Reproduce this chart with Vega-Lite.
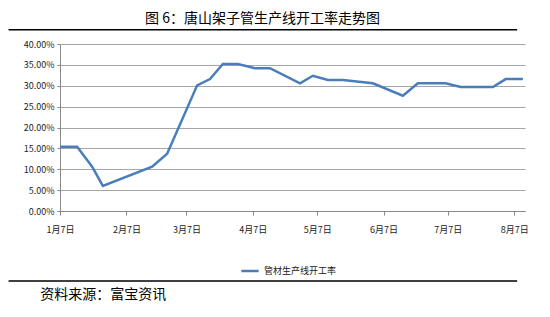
{
  "$schema": "https://vega.github.io/schema/vega-lite/v6.json",
  "background": "white",
  "autosize": {"type": "none"},
  "padding": {"left": 60, "top": 44, "right": 25, "bottom": 106},
  "width": 465,
  "height": 167,
  "config": {"font": "Noto Sans CJK SC", "view": {"stroke": null}},
  "title": {"text": "图 6：唐山架子管生产线开工率走势图", "fontSize": 14, "fontWeight": "normal", "anchor": "middle", "frame": "group", "dx": -30, "offset": 3, "color": "black"},
  "layer": [
    {
      "data": {
        "values": [
          {"date": "2013/01/07", "rate": 0.154},
          {"date": "2013/01/15", "rate": 0.154},
          {"date": "2013/01/22", "rate": 0.106},
          {"date": "2013/01/27", "rate": 0.060},
          {"date": "2013/02/19", "rate": 0.106},
          {"date": "2013/02/26", "rate": 0.137},
          {"date": "2013/03/12", "rate": 0.301},
          {"date": "2013/03/18", "rate": 0.316},
          {"date": "2013/03/24", "rate": 0.352},
          {"date": "2013/03/31", "rate": 0.352},
          {"date": "2013/04/08", "rate": 0.342},
          {"date": "2013/04/15", "rate": 0.342},
          {"date": "2013/04/29", "rate": 0.306},
          {"date": "2013/05/05", "rate": 0.324},
          {"date": "2013/05/12", "rate": 0.314},
          {"date": "2013/05/19", "rate": 0.314},
          {"date": "2013/06/02", "rate": 0.306},
          {"date": "2013/06/16", "rate": 0.276},
          {"date": "2013/06/23", "rate": 0.306},
          {"date": "2013/07/06", "rate": 0.306},
          {"date": "2013/07/13", "rate": 0.297},
          {"date": "2013/07/28", "rate": 0.297},
          {"date": "2013/08/03", "rate": 0.316},
          {"date": "2013/08/11", "rate": 0.316}
        ]
      },
      "mark": {"type": "line", "strokeWidth": 2.5},
      "encoding": {
        "x": {
          "field": "date",
          "type": "temporal",
          "scale": {"domain": [{"year": 2013, "month": 1, "date": 7}, {"year": 2013, "month": 8, "date": 12}]},
          "axis": {
            "title": null,
            "values": [
              {"year": 2013, "month": 1, "date": 7},
              {"year": 2013, "month": 2, "date": 7},
              {"year": 2013, "month": 3, "date": 7},
              {"year": 2013, "month": 4, "date": 7},
              {"year": 2013, "month": 5, "date": 7},
              {"year": 2013, "month": 6, "date": 7},
              {"year": 2013, "month": 7, "date": 7},
              {"year": 2013, "month": 8, "date": 7}
            ],
            "format": "%-m月%-d日",
            "grid": false,
            "domainColor": "#888888",
            "tickColor": "#888888",
            "tickSize": 4,
            "labelPadding": 10,
            "labelFontSize": 9,
            "labelColor": "#222222",
            "labelFlush": false
          }
        },
        "y": {
          "field": "rate",
          "type": "quantitative",
          "scale": {"domain": [0, 0.4], "nice": false},
          "axis": {
            "title": null,
            "values": [0, 0.05, 0.1, 0.15, 0.2, 0.25, 0.3, 0.35, 0.4],
            "format": ".2%",
            "gridColor": "#a6a6a6",
            "gridWidth": 1,
            "domainColor": "#888888",
            "tickColor": "#888888",
            "tickSize": 3,
            "labelPadding": 3,
            "labelFontSize": 9,
            "labelColor": "#222222"
          }
        },
        "color": {
          "datum": "管材生产线开工率",
          "scale": {"range": ["#4A7EBB"]},
          "legend": {
            "title": null,
            "orient": "none",
            "legendX": 180,
            "legendY": 217,
            "direction": "horizontal",
            "symbolType": "stroke",
            "symbolStrokeWidth": 2.5,
            "symbolSize": 300,
            "labelFontSize": 9,
            "labelColor": "#222222"
          }
        }
      }
    },
    {
      "data": {"values": [{}]},
      "mark": {"type": "rule", "color": "black", "strokeWidth": 1.5},
      "encoding": {
        "x": {"datum": {"year": 2012, "month": 12, "date": 14}, "type": "temporal", "axis": {"title": null, "values": [{"year": 2013, "month": 1, "date": 7}, {"year": 2013, "month": 2, "date": 7}, {"year": 2013, "month": 3, "date": 7}, {"year": 2013, "month": 4, "date": 7}, {"year": 2013, "month": 5, "date": 7}, {"year": 2013, "month": 6, "date": 7}, {"year": 2013, "month": 7, "date": 7}, {"year": 2013, "month": 8, "date": 7}], "format": "%-m月%-d日", "grid": false, "domainColor": "#888888", "tickColor": "#888888", "tickSize": 4, "labelPadding": 10, "labelFontSize": 9, "labelColor": "#222222", "labelFlush": false}},
        "x2": {"datum": {"year": 2013, "month": 8, "date": 8, "hours": 8}},
        "y": {"datum": 0.434, "type": "quantitative", "axis": {"title": null, "values": [0, 0.05, 0.1, 0.15, 0.2, 0.25, 0.3, 0.35, 0.4], "format": ".2%", "gridColor": "#a6a6a6", "gridWidth": 1, "domainColor": "#888888", "tickColor": "#888888", "tickSize": 3, "labelPadding": 3, "labelFontSize": 9, "labelColor": "#222222"}}
      }
    },
    {
      "data": {"values": [{}]},
      "mark": {"type": "rule", "color": "black", "strokeWidth": 1.5},
      "encoding": {
        "x": {"datum": {"year": 2012, "month": 12, "date": 14}, "type": "temporal", "axis": {"title": null, "values": [{"year": 2013, "month": 1, "date": 7}, {"year": 2013, "month": 2, "date": 7}, {"year": 2013, "month": 3, "date": 7}, {"year": 2013, "month": 4, "date": 7}, {"year": 2013, "month": 5, "date": 7}, {"year": 2013, "month": 6, "date": 7}, {"year": 2013, "month": 7, "date": 7}, {"year": 2013, "month": 8, "date": 7}], "format": "%-m月%-d日", "grid": false, "domainColor": "#888888", "tickColor": "#888888", "tickSize": 4, "labelPadding": 10, "labelFontSize": 9, "labelColor": "#222222", "labelFlush": false}},
        "x2": {"datum": {"year": 2013, "month": 8, "date": 8, "hours": 8}},
        "y": {"datum": -0.1677, "type": "quantitative", "axis": {"title": null, "values": [0, 0.05, 0.1, 0.15, 0.2, 0.25, 0.3, 0.35, 0.4], "format": ".2%", "gridColor": "#a6a6a6", "gridWidth": 1, "domainColor": "#888888", "tickColor": "#888888", "tickSize": 3, "labelPadding": 3, "labelFontSize": 9, "labelColor": "#222222"}}
      }
    },
    {
      "data": {"values": [{}]},
      "mark": {"type": "text", "fontSize": 14, "color": "black", "align": "left", "baseline": "middle"},
      "encoding": {
        "x": {"datum": {"year": 2012, "month": 12, "date": 28, "hours": 18}, "type": "temporal", "axis": {"title": null, "values": [{"year": 2013, "month": 1, "date": 7}, {"year": 2013, "month": 2, "date": 7}, {"year": 2013, "month": 3, "date": 7}, {"year": 2013, "month": 4, "date": 7}, {"year": 2013, "month": 5, "date": 7}, {"year": 2013, "month": 6, "date": 7}, {"year": 2013, "month": 7, "date": 7}, {"year": 2013, "month": 8, "date": 7}], "format": "%-m月%-d日", "grid": false, "domainColor": "#888888", "tickColor": "#888888", "tickSize": 4, "labelPadding": 10, "labelFontSize": 9, "labelColor": "#222222", "labelFlush": false}},
        "y": {"datum": -0.201, "type": "quantitative", "axis": {"title": null, "values": [0, 0.05, 0.1, 0.15, 0.2, 0.25, 0.3, 0.35, 0.4], "format": ".2%", "gridColor": "#a6a6a6", "gridWidth": 1, "domainColor": "#888888", "tickColor": "#888888", "tickSize": 3, "labelPadding": 3, "labelFontSize": 9, "labelColor": "#222222"}},
        "text": {"value": "资料来源：富宝资讯"}
      }
    }
  ]
}
